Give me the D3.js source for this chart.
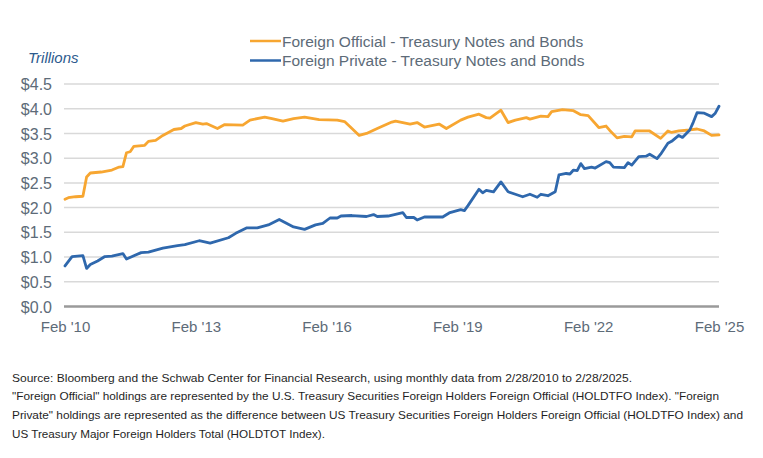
<!DOCTYPE html>
<html>
<head>
<meta charset="utf-8">
<script src="https://cdn.jsdelivr.net/npm/d3@7"></script>
<style>
  html, body { margin: 0; padding: 0; background: #ffffff; }
  svg { display: block; }
</style>
</head>
<body>
<svg id="chart" width="763" height="458"></svg>
<script>
// ---------- DATA ----------
const seriesNames = [
  "Foreign Official - Treasury Notes and Bonds",
  "Foreign Private - Treasury Notes and Bonds"
];
const yTickValues = [0, 0.5, 1.0, 1.5, 2.0, 2.5, 3.0, 3.5, 4.0, 4.5];
const xTickDates = ["2010-02", "2013-02", "2016-02", "2019-02", "2022-02", "2025-02"];
const xTickLabels = ["Feb '10", "Feb '13", "Feb '16", "Feb '19", "Feb '22", "Feb '25"];

const officialData = [
  ["2010-02",2.17],["2010-03",2.20],["2010-05",2.22],["2010-07",2.23],["2010-08",2.62],
  ["2010-09",2.70],["2010-12",2.72],["2011-03",2.76],["2011-05",2.82],["2011-06",2.83],
  ["2011-07",3.11],["2011-08",3.13],["2011-09",3.24],["2011-12",3.26],["2012-01",3.34],
  ["2012-03",3.36],["2012-05",3.46],["2012-08",3.58],["2012-10",3.60],["2012-11",3.65],
  ["2013-02",3.72],["2013-04",3.69],["2013-05",3.70],["2013-08",3.60],["2013-10",3.68],
  ["2014-03",3.67],["2014-05",3.77],["2014-09",3.83],["2014-11",3.80],["2015-02",3.75],
  ["2015-05",3.80],["2015-08",3.83],["2015-12",3.78],["2016-05",3.77],["2016-07",3.74],
  ["2016-09",3.60],["2016-11",3.46],["2017-01",3.50],["2017-04",3.60],["2017-08",3.73],
  ["2017-09",3.75],["2018-01",3.69],["2018-03",3.72],["2018-05",3.63],["2018-09",3.69],
  ["2018-11",3.60],["2019-03",3.77],["2019-05",3.83],["2019-08",3.89],["2019-10",3.82],
  ["2019-11",3.81],["2020-02",3.97],["2020-04",3.72],["2020-06",3.77],["2020-09",3.82],
  ["2020-10",3.79],["2021-01",3.85],["2021-03",3.84],["2021-04",3.94],["2021-07",3.98],
  ["2021-10",3.96],["2021-12",3.88],["2022-02",3.86],["2022-05",3.62],["2022-07",3.65],
  ["2022-08",3.56],["2022-10",3.41],["2022-12",3.44],["2023-02",3.43],["2023-03",3.55],
  ["2023-07",3.55],["2023-10",3.40],["2023-12",3.55],["2024-01",3.52],["2024-03",3.55],
  ["2024-06",3.57],["2024-08",3.59],["2024-10",3.55],["2024-12",3.46],["2025-02",3.47]
];

const privateData = [
  ["2010-02",0.82],["2010-04",1.01],["2010-07",1.03],["2010-08",0.77],["2010-09",0.85],
  ["2010-11",0.92],["2011-01",1.01],["2011-03",1.02],["2011-06",1.07],["2011-07",0.96],
  ["2011-11",1.09],["2012-01",1.10],["2012-05",1.18],["2012-09",1.23],["2012-11",1.25],
  ["2013-03",1.33],["2013-06",1.28],["2013-11",1.39],["2014-01",1.48],["2014-04",1.59],
  ["2014-07",1.59],["2014-10",1.65],["2015-01",1.76],["2015-05",1.61],["2015-08",1.56],
  ["2015-11",1.65],["2016-01",1.68],["2016-03",1.79],["2016-05",1.79],["2016-06",1.83],
  ["2016-09",1.84],["2017-01",1.82],["2017-03",1.86],["2017-04",1.82],["2017-07",1.83],
  ["2017-11",1.90],["2017-12",1.80],["2018-02",1.80],["2018-03",1.75],["2018-05",1.81],
  ["2018-10",1.81],["2018-12",1.90],["2019-03",1.96],["2019-04",1.94],["2019-05",2.04],
  ["2019-08",2.37],["2019-09",2.30],["2019-10",2.35],["2019-12",2.32],["2020-02",2.52],
  ["2020-04",2.32],["2020-06",2.27],["2020-08",2.22],["2020-10",2.27],["2020-12",2.21],
  ["2021-01",2.27],["2021-03",2.24],["2021-05",2.32],["2021-06",2.66],["2021-08",2.69],
  ["2021-09",2.68],["2021-10",2.76],["2021-11",2.75],["2021-12",2.89],["2022-01",2.79],
  ["2022-03",2.82],["2022-04",2.80],["2022-07",2.93],["2022-08",2.91],["2022-09",2.82],
  ["2022-12",2.81],["2023-01",2.91],["2023-02",2.86],["2023-04",3.03],["2023-06",3.04],
  ["2023-07",3.08],["2023-09",2.99],["2023-10",3.08],["2023-12",3.30],["2024-01",3.34],
  ["2024-03",3.46],["2024-04",3.42],["2024-06",3.57],["2024-07",3.73],["2024-08",3.92],
  ["2024-10",3.91],["2024-12",3.84],["2025-01",3.91],["2025-02",4.05]
];

const footnoteLines = [
  "Source: Bloomberg and the Schwab Center for Financial Research, using monthly data from 2/28/2010 to 2/28/2025.",
  "\"Foreign Official\" holdings are represented by the U.S. Treasury Securities Foreign Holders Foreign Official (HOLDTFO Index). \"Foreign",
  "Private\" holdings are represented as the difference between US Treasury Securities Foreign Holders Foreign Official (HOLDTFO Index) and",
  "US Treasury Major Foreign Holders Total (HOLDTOT Index)."
];

// ---------- STYLE / LAYOUT ----------
const colors = ["#f7a631", "#2f68ad"];
const textGray = "#5d6b78";
const parse = d3.timeParse("%Y-%m");
const svg = d3.select("#chart");
const font = "'Liberation Sans', Arial, sans-serif";

const x = d3.scaleTime()
  .domain([parse("2010-02"), parse("2025-02")])
  .range([65, 719]);
const y = d3.scaleLinear().domain([0, 4.5]).range([306.5, 84]);

// gridlines
svg.append("g")
  .selectAll("line")
  .data(yTickValues.filter(v => v > 0))
  .join("line")
  .attr("x1", 64).attr("x2", 719)
  .attr("y1", d => y(d)).attr("y2", d => y(d))
  .attr("stroke", "#d9d9d9").attr("stroke-width", 1.5);

// y axis labels
const yAxis = d3.axisLeft(y).tickValues(yTickValues)
  .tickFormat(d => "$" + d3.format(".1f")(d)).tickSize(0).tickPadding(0);
const yg = svg.append("g").attr("transform", "translate(52,0)").call(yAxis);
yg.select(".domain").remove();
yg.selectAll("text")
  .attr("font-family", font).attr("font-size", 16).attr("fill", textGray)
  .attr("dy", "0.35em");

// x axis (zero line)
const xAxis = d3.axisBottom(x)
  .tickValues(xTickDates.map(parse))
  .tickFormat((d, i) => xTickLabels[i])
  .tickSize(0).tickPadding(0);
const xg = svg.append("g").attr("transform", `translate(0,${y(0)})`).call(xAxis);
xg.select(".domain").remove();
xg.selectAll("text")
  .attr("font-family", font).attr("font-size", 15).attr("fill", textGray)
  .attr("y", 0).attr("dy", 0).attr("transform", "translate(0,25)");
svg.append("line")
  .attr("x1", 64).attr("x2", 719).attr("y1", y(0)).attr("y2", y(0))
  .attr("stroke", "#9a9a9a").attr("stroke-width", 2.5);

// lines
const line = d3.line()
  .x(d => x(parse(d[0])))
  .y(d => y(d[1]))
  .curve(d3.curveLinear);

[officialData, privateData].forEach((data, i) => {
  svg.append("path")
    .datum(data)
    .attr("d", line)
    .attr("fill", "none")
    .attr("stroke", colors[i])
    .attr("stroke-width", 2.8)
    .attr("stroke-linejoin", "round")
    .attr("stroke-linecap", "round");
});

// "Trillions"
svg.append("text")
  .attr("x", 28).attr("y", 63)
  .attr("font-family", font).attr("font-size", 15).attr("font-style", "italic")
  .attr("fill", "#2d5b8e")
  .text("Trillions");

// legend
const legend = svg.append("g");
seriesNames.forEach((name, i) => {
  const ly = 41 + i * 19.5;
  legend.append("line")
    .attr("x1", 250).attr("x2", 281).attr("y1", ly).attr("y2", ly)
    .attr("stroke", colors[i]).attr("stroke-width", 2.5);
  legend.append("text")
    .attr("x", 282).attr("y", ly + 5.5)
    .attr("font-family", font).attr("font-size", 15.5).attr("fill", textGray)
    .text(name);
});

// footnotes
const footWidths = [620, 707, 731, 313];
footnoteLines.forEach((t, i) => {
  svg.append("text")
    .attr("x", 12).attr("y", 381.5 + i * 18.7)
    .attr("font-family", font)
    .attr("font-size", 11).attr("fill", "#1f1f1f")
    .attr("textLength", footWidths[i]).attr("lengthAdjust", "spacingAndGlyphs")
    .text(t);
});
</script>
</body>
</html>
